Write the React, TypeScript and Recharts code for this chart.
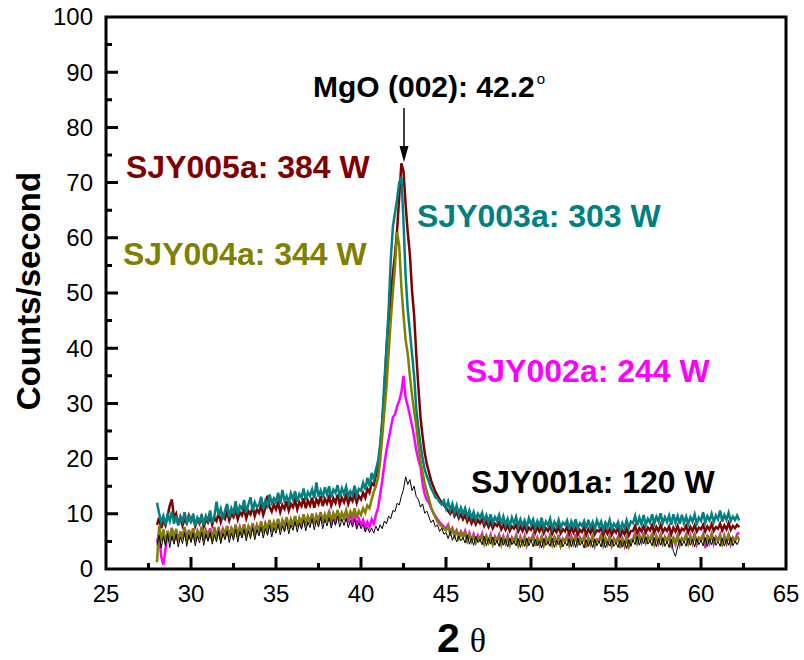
import { LineChart, Line, XAxis, YAxis } from "recharts";

// 2θ scan grid (degrees)
const twoTheta = [
  28, 28.125, 28.25, 28.375, 28.5, 28.625, 28.75, 28.875,
  29, 29.125, 29.25, 29.375, 29.5, 29.625, 29.75, 29.875,
  30, 30.125, 30.25, 30.375, 30.5, 30.625, 30.75, 30.875,
  31, 31.125, 31.25, 31.375, 31.5, 31.625, 31.75, 31.875,
  32, 32.125, 32.25, 32.375, 32.5, 32.625, 32.75, 32.875,
  33, 33.125, 33.25, 33.375, 33.5, 33.625, 33.75, 33.875,
  34, 34.125, 34.25, 34.375, 34.5, 34.625, 34.75, 34.875,
  35, 35.125, 35.25, 35.375, 35.5, 35.625, 35.75, 35.875,
  36, 36.125, 36.25, 36.375, 36.5, 36.625, 36.75, 36.875,
  37, 37.125, 37.25, 37.375, 37.5, 37.625, 37.75, 37.875,
  38, 38.125, 38.25, 38.375, 38.5, 38.625, 38.75, 38.875,
  39, 39.125, 39.25, 39.375, 39.5, 39.625, 39.75, 39.875,
  40, 40.125, 40.25, 40.375, 40.5, 40.625, 40.75, 40.875,
  41, 41.125, 41.25, 41.375, 41.5, 41.625, 41.75, 41.875,
  42, 42.125, 42.25, 42.375, 42.5, 42.625, 42.75, 42.875,
  43, 43.125, 43.25, 43.375, 43.5, 43.625, 43.75, 43.875,
  44, 44.125, 44.25, 44.375, 44.5, 44.625, 44.75, 44.875,
  45, 45.125, 45.25, 45.375, 45.5, 45.625, 45.75, 45.875,
  46, 46.125, 46.25, 46.375, 46.5, 46.625, 46.75, 46.875,
  47, 47.125, 47.25, 47.375, 47.5, 47.625, 47.75, 47.875,
  48, 48.125, 48.25, 48.375, 48.5, 48.625, 48.75, 48.875,
  49, 49.125, 49.25, 49.375, 49.5, 49.625, 49.75, 49.875,
  50, 50.125, 50.25, 50.375, 50.5, 50.625, 50.75, 50.875,
  51, 51.125, 51.25, 51.375, 51.5, 51.625, 51.75, 51.875,
  52, 52.125, 52.25, 52.375, 52.5, 52.625, 52.75, 52.875,
  53, 53.125, 53.25, 53.375, 53.5, 53.625, 53.75, 53.875,
  54, 54.125, 54.25, 54.375, 54.5, 54.625, 54.75, 54.875,
  55, 55.125, 55.25, 55.375, 55.5, 55.625, 55.75, 55.875,
  56, 56.125, 56.25, 56.375, 56.5, 56.625, 56.75, 56.875,
  57, 57.125, 57.25, 57.375, 57.5, 57.625, 57.75, 57.875,
  58, 58.125, 58.25, 58.375, 58.5, 58.625, 58.75, 58.875,
  59, 59.125, 59.25, 59.375, 59.5, 59.625, 59.75, 59.875,
  60, 60.125, 60.25, 60.375, 60.5, 60.625, 60.75, 60.875,
  61, 61.125, 61.25, 61.375, 61.5, 61.625, 61.75, 61.875,
  62, 62.125, 62.25,
];

// SJY003a: 303 W
const sjy003a = [
  12.0, 10.1, 8.4, 9.6, 8.0, 9.9, 8.7, 10.4,
  8.2, 9.7, 7.9, 9.4, 8.6, 10.3, 8.1, 9.8,
  8.4, 10.0, 7.8, 9.3, 8.5, 9.9, 8.0, 9.6,
  8.8, 10.6, 8.3, 9.5, 12.2, 9.7, 10.9, 9.0,
  10.6, 11.8, 9.4, 11.0, 10.1, 12.3, 9.9, 11.4,
  10.8, 12.5, 10.2, 11.7, 13.0, 10.6, 12.1, 11.2,
  11.6, 13.1, 10.9, 12.4, 11.5, 13.5, 12.0, 12.8,
  12.1, 13.8, 11.8, 14.3, 12.4, 13.2, 12.0, 13.7,
  12.6, 14.1, 12.2, 13.6, 12.9, 14.6, 12.5, 13.9,
  13.2, 14.4, 12.8, 15.7, 13.1, 14.2, 12.9, 14.8,
  13.5, 15.0, 12.9, 14.4, 13.8, 15.2, 13.0, 14.6,
  13.6, 14.9, 13.2, 14.1, 13.4, 15.1, 13.3, 14.5,
  14.2, 15.6, 14.4, 16.5, 15.0, 17.4, 16.2, 18.0,
  19.5, 22.5, 27.0, 34.0, 40.0, 47.0, 56.0, 62.0,
  64.5, 67.0, 70.0, 71.0, 63.0, 53.0, 47.0, 43.0,
  39.0, 35.0, 29.0, 25.5, 22.5, 20.0, 18.0, 16.8,
  15.8, 14.6, 13.9, 13.0, 12.8, 12.1, 11.7, 12.4,
  11.0, 12.2, 10.6, 11.8, 10.2, 11.5, 9.9, 11.1,
  10.0, 11.0, 9.4, 10.6, 9.2, 10.3, 8.9, 10.0,
  9.3, 10.2, 8.6, 9.7, 8.5, 9.9, 8.3, 9.4,
  8.7, 9.8, 8.1, 9.5, 8.0, 9.1, 7.8, 9.3,
  8.2, 9.4, 7.7, 9.0, 7.9, 8.8, 7.6, 9.2,
  8.1, 9.0, 7.5, 8.7, 7.8, 9.3, 7.4, 8.6,
  7.9, 9.1, 7.3, 8.5, 7.7, 8.9, 7.5, 8.4,
  8.0, 8.8, 7.2, 8.6, 7.6, 9.0, 7.4, 8.3,
  7.8, 8.7, 7.3, 8.9, 7.5, 8.5, 7.2, 8.8,
  7.7, 8.6, 7.1, 8.4, 7.6, 8.9, 7.3, 8.2,
  7.6, 8.5, 7.0, 8.3, 7.4, 8.8, 7.5, 8.6,
  8.3, 9.6, 7.9, 9.3, 8.1, 9.8, 8.0, 9.1,
  8.4, 9.9, 8.2, 9.5, 8.6, 10.1, 8.3, 9.4,
  8.5, 9.7, 8.0, 9.9, 8.4, 9.6, 8.2, 9.8,
  8.3, 9.5, 8.1, 9.4, 8.6, 9.9, 8.2, 9.3,
  8.7, 10.3, 8.4, 9.6, 8.8, 10.0, 8.5, 9.7,
  9.0, 10.6, 8.6, 9.8, 8.9, 10.2, 8.7, 9.5,
  8.9, 9.7, 8.8,
];

// SJY005a: 384 W
const sjy005a = [
  8.0, 9.3, 7.4, 8.8, 7.9, 9.6, 11.5, 12.6,
  9.2, 10.0, 8.1, 9.4, 7.9, 9.1, 8.3, 9.7,
  8.6, 9.5, 7.8, 9.0, 8.2, 9.4, 7.7, 8.9,
  8.4, 9.6, 8.0, 9.3, 8.7, 10.2, 8.5, 9.8,
  9.1, 10.4, 8.8, 10.0, 9.4, 10.7, 9.0, 10.3,
  9.7, 10.9, 9.2, 10.5, 9.9, 11.3, 9.6, 10.8,
  10.2, 11.5, 9.8, 11.0, 13.3, 11.2, 10.4, 11.7,
  10.8, 12.0, 10.3, 11.6, 10.9, 12.3, 10.6, 11.8,
  11.2, 12.5, 10.8, 12.1, 11.4, 12.8, 11.0, 12.4,
  11.5, 12.9, 11.1, 12.6, 11.8, 13.2, 11.4, 12.7,
  11.9, 13.1, 11.5, 12.8, 12.0, 13.5, 11.7, 12.9,
  12.1, 13.4, 11.8, 13.0, 12.3, 13.6, 12.0, 13.2,
  12.6, 13.8, 12.9, 14.5, 13.8, 15.6, 15.2, 17.0,
  18.5, 21.5, 26.5, 32.0, 40.0, 45.0, 49.5, 53.5,
  57.0, 61.5, 67.5, 73.5, 72.0, 66.0, 61.0, 57.0,
  50.5, 46.0, 39.0, 33.0, 27.5, 24.0, 21.0, 19.0,
  17.5, 16.0, 15.0, 14.0, 13.3, 12.6, 12.0, 11.6,
  11.1, 10.5, 10.0, 10.8, 9.6, 10.3, 9.2, 9.9,
  9.0, 9.8, 8.6, 9.4, 8.3, 9.2, 8.1, 8.9,
  8.3, 9.0, 7.8, 8.6, 7.6, 8.5, 7.4, 8.2,
  7.8, 8.5, 7.2, 8.0, 7.1, 7.9, 6.9, 7.7,
  7.3, 8.0, 6.8, 7.7, 6.9, 7.8, 6.7, 7.5,
  7.1, 7.9, 6.6, 7.6, 6.8, 7.7, 6.5, 7.4,
  6.9, 7.8, 6.4, 7.3, 6.7, 7.6, 6.5, 7.2,
  6.8, 7.7, 6.3, 7.5, 6.6, 7.4, 6.2, 7.1,
  6.7, 7.6, 6.2, 7.2, 6.5, 7.5, 6.3, 7.0,
  6.8, 7.4, 6.1, 7.3, 6.4, 7.2, 6.2, 7.1,
  6.6, 7.5, 6.0, 7.0, 6.3, 7.3, 6.1, 6.9,
  6.9, 7.8, 6.5, 7.4, 6.8, 7.7, 6.6, 7.5,
  7.0, 7.9, 6.6, 7.6, 6.9, 8.0, 6.7, 7.4,
  6.9, 7.7, 6.3, 7.5, 6.8, 7.8, 6.5, 7.3,
  7.0, 7.8, 6.6, 7.6, 6.9, 7.9, 6.8, 7.5,
  7.2, 8.0, 6.8, 7.7, 7.1, 8.1, 6.9, 7.6,
  7.3, 8.2, 7.0, 7.9, 7.2, 8.3, 7.1, 7.8,
  7.4, 8.0, 7.6,
];

// SJY004a: 344 W
const sjy004a = [
  1.2, 7.8, 5.0, 7.2, 4.6, 6.9, 5.3, 7.5,
  5.1, 7.3, 4.9, 6.8, 5.5, 7.6, 5.0, 7.1,
  5.4, 7.4, 5.0, 6.9, 5.6, 7.7, 5.2, 7.0,
  5.5, 7.2, 5.1, 7.6, 5.8, 7.0, 5.3, 7.4,
  6.0, 7.8, 5.6, 7.3, 6.2, 8.0, 5.8, 7.5,
  6.3, 8.1, 5.9, 7.7, 6.6, 8.3, 6.1, 7.9,
  6.9, 8.6, 6.5, 8.2, 7.2, 8.9, 6.8, 8.5,
  7.5, 9.1, 7.0, 8.8, 7.8, 9.4, 7.3, 9.0,
  8.0, 9.6, 7.6, 9.2, 8.3, 9.9, 7.9, 9.5,
  8.5, 10.0, 8.1, 9.7, 8.8, 10.3, 8.4, 9.9,
  8.9, 10.4, 8.5, 10.1, 9.2, 10.7, 8.8, 10.2,
  9.3, 10.6, 8.9, 10.4, 9.6, 11.0, 9.2, 10.5,
  9.8, 11.0, 10.2, 11.5, 11.0, 12.6, 14.0, 15.0,
  16.5, 19.5, 24.0, 28.5, 33.0, 39.0, 45.0, 50.0,
  55.0, 61.0, 58.5, 51.0, 46.0, 41.5, 39.0, 35.0,
  31.5, 28.5, 26.0, 22.5, 19.5, 17.5, 15.5, 14.0,
  12.6, 11.2, 10.2, 9.4, 8.6, 8.1, 7.7, 7.3,
  7.0, 7.8, 6.4, 7.2, 6.0, 6.9, 5.6, 6.6,
  5.7, 6.6, 5.1, 6.2, 5.0, 6.0, 4.8, 5.8,
  5.2, 6.1, 4.6, 5.8, 4.8, 5.9, 4.5, 5.6,
  5.0, 6.0, 4.4, 5.7, 4.7, 5.8, 4.3, 5.5,
  4.9, 5.9, 4.3, 5.6, 4.6, 5.7, 4.4, 5.4,
  5.1, 6.0, 4.2, 5.5, 4.5, 5.8, 4.3, 5.6,
  4.8, 5.9, 4.4, 5.7, 4.6, 6.0, 4.2, 5.4,
  5.0, 5.8, 4.3, 5.6, 4.7, 6.1, 4.5, 5.5,
  4.9, 5.7, 4.1, 5.5, 4.6, 5.9, 4.4, 5.3,
  5.0, 6.0, 4.3, 5.6, 4.5, 5.8, 4.2, 5.4,
  4.8, 5.6, 4.0, 5.4, 4.4, 5.7, 4.1, 5.2,
  5.2, 6.3, 4.7, 5.9, 5.0, 6.4, 4.8, 5.8,
  5.1, 6.2, 4.5, 5.8, 4.9, 6.1, 4.6, 5.7,
  5.0, 5.9, 4.3, 5.6, 4.7, 6.0, 4.4, 5.5,
  5.1, 6.0, 4.6, 5.8, 4.9, 6.2, 4.7, 5.6,
  5.2, 6.1, 4.6, 5.9, 5.0, 6.3, 4.8, 5.7,
  5.1, 6.0, 4.5, 5.8, 4.9, 6.2, 4.7, 5.6,
  5.0, 5.9, 5.3,
];

// SJY002a: 244 W
const sjy002a = [
  4.8, 6.5, 2.2, 0.8, 3.6, 6.9, 5.0, 7.3,
  5.3, 7.0, 4.9, 6.7, 5.4, 7.4, 5.1, 6.9,
  5.6, 7.2, 5.1, 6.8, 5.5, 7.5, 5.2, 7.0,
  5.8, 7.4, 5.3, 7.1, 5.7, 7.6, 5.5, 7.2,
  6.2, 7.8, 5.8, 7.5, 6.1, 8.0, 5.9, 7.6,
  6.5, 8.1, 6.0, 7.8, 6.4, 8.3, 6.2, 7.9,
  7.0, 8.5, 6.6, 8.2, 7.1, 8.8, 6.8, 8.4,
  7.6, 9.0, 7.2, 8.7, 7.5, 9.3, 7.3, 8.9,
  8.1, 9.5, 7.7, 9.1, 8.0, 9.8, 7.8, 9.4,
  8.6, 10.0, 8.2, 9.6, 8.5, 10.2, 8.3, 9.7,
  9.0, 10.3, 8.6, 9.9, 8.8, 10.5, 8.7, 10.0,
  9.2, 10.4, 8.8, 9.8, 8.4, 9.5, 8.0, 9.1,
  8.0, 8.9, 7.4, 8.5, 7.6, 9.0, 8.2, 9.8,
  11.0, 13.5, 16.0, 19.0, 21.5, 23.5, 25.5, 27.5,
  28.0, 29.5, 30.5, 32.0, 35.0, 31.0, 29.5, 27.8,
  26.0, 24.0, 21.5, 19.8, 18.5, 15.5, 13.5, 12.5,
  12.0, 11.0, 10.2, 9.6, 9.0, 8.5, 8.1, 7.7,
  7.3, 8.0, 6.7, 7.4, 6.3, 7.0, 5.9, 6.8,
  6.0, 6.9, 5.3, 6.5, 5.2, 6.3, 4.9, 6.1,
  5.4, 6.4, 4.8, 6.0, 4.9, 6.2, 4.6, 5.9,
  5.2, 6.2, 4.5, 5.9, 4.7, 6.0, 4.3, 5.7,
  5.0, 6.1, 4.4, 5.8, 4.6, 5.9, 4.3, 5.6,
  5.3, 6.2, 4.2, 5.6, 4.4, 6.0, 4.1, 5.7,
  4.9, 6.1, 4.3, 5.9, 4.5, 6.2, 4.0, 5.5,
  5.1, 6.0, 4.2, 5.8, 4.6, 6.3, 4.4, 5.7,
  5.0, 5.9, 3.9, 5.6, 4.5, 6.1, 4.2, 5.4,
  5.2, 6.2, 4.1, 5.7, 4.3, 6.0, 4.0, 5.5,
  4.9, 5.8, 3.8, 5.5, 4.2, 5.9, 3.9, 5.3,
  5.4, 6.5, 4.6, 6.1, 4.9, 6.6, 4.6, 5.9,
  5.2, 6.4, 4.3, 5.9, 4.7, 6.3, 4.4, 5.8,
  5.1, 6.1, 4.0, 5.8, 4.5, 6.2, 4.2, 5.6,
  5.2, 6.2, 4.4, 6.0, 4.7, 6.4, 4.5, 5.7,
  5.4, 6.3, 3.8, 6.1, 4.8, 6.5, 4.6, 5.8,
  5.2, 6.2, 4.3, 6.0, 4.7, 6.4, 4.5, 5.7,
  5.1, 6.3, 6.6,
];

// SJY001a: 120 W
const sjy001a = [
  4.4, 6.1, 3.8, 5.9, 4.2, 6.4, 3.9, 6.0,
  4.5, 6.3, 4.0, 5.8, 4.6, 6.6, 4.1, 6.2,
  4.8, 6.5, 4.2, 6.0, 4.7, 6.7, 4.3, 6.3,
  5.0, 6.6, 4.5, 6.2, 4.9, 6.9, 4.6, 6.4,
  5.3, 6.9, 4.8, 6.5, 5.2, 7.2, 4.9, 6.8,
  5.6, 7.2, 5.1, 6.9, 5.5, 7.5, 5.3, 7.1,
  6.0, 7.6, 5.6, 7.3, 6.1, 7.9, 5.8, 7.5,
  6.5, 8.1, 6.2, 7.8, 6.7, 8.4, 6.4, 8.0,
  7.0, 8.6, 6.7, 8.3, 7.2, 8.9, 6.9, 8.5,
  7.5, 9.1, 7.1, 8.8, 7.6, 9.4, 7.3, 9.0,
  7.8, 9.3, 7.4, 9.0, 7.9, 9.6, 7.6, 9.1,
  7.9, 9.2, 7.5, 8.8, 7.6, 9.0, 7.2, 8.4,
  7.3, 8.1, 6.7, 7.6, 6.6, 7.4, 6.5, 7.8,
  6.9, 8.0, 7.3, 8.7, 8.2, 9.6, 9.1, 10.6,
  10.4, 11.9, 11.6, 13.2, 14.4, 16.7, 15.3, 16.2,
  14.2, 15.0, 13.1, 12.6, 11.2, 11.8, 10.1, 10.5,
  9.4, 8.4, 8.9, 7.6, 8.0, 6.8, 7.4, 6.3,
  6.6, 5.5, 6.8, 5.2, 6.1, 4.9, 6.0, 5.1,
  5.7, 4.7, 6.2, 4.5, 5.6, 4.3, 5.9, 4.8,
  5.4, 4.4, 5.9, 4.2, 5.5, 4.5, 5.8, 4.3,
  5.2, 4.1, 5.7, 4.3, 5.4, 4.0, 5.6, 4.4,
  5.1, 4.2, 5.5, 3.9, 5.3, 4.1, 5.6, 4.2,
  5.3, 4.0, 5.4, 4.2, 5.1, 3.8, 5.5, 4.3,
  5.0, 4.1, 5.6, 3.9, 5.2, 4.4, 5.3, 4.0,
  4.9, 4.2, 5.5, 4.0, 5.4, 3.9, 5.6, 4.3,
  5.0, 3.8, 5.3, 4.1, 5.2, 3.9, 5.4, 4.2,
  5.1, 4.0, 5.5, 3.8, 5.0, 4.2, 5.3, 4.1,
  4.8, 3.9, 5.2, 4.0, 5.1, 3.7, 5.3, 4.1,
  5.3, 4.4, 5.9, 4.3, 5.6, 4.6, 5.8, 4.5,
  5.2, 4.2, 5.7, 4.0, 5.5, 4.3, 5.6, 4.1,
  5.0, 3.9, 5.4, 3.2, 2.3, 4.0, 5.3, 4.2,
  5.1, 4.1, 5.6, 4.3, 5.4, 4.0, 5.5, 4.4,
  5.2, 4.2, 5.7, 4.1, 5.5, 4.4, 5.8, 4.3,
  5.0, 4.1, 5.6, 4.2, 5.4, 4.3, 5.7, 4.2,
  5.1, 4.4, 5.3,
];

const xMajor = [25, 30, 35, 40, 45, 50, 55, 60, 65];
const xMinor = [27.5, 32.5, 37.5, 42.5, 47.5, 52.5, 57.5, 62.5];
const yMajor = [0, 10, 20, 30, 40, 50, 60, 70, 80, 90, 100];
const yMinor = [5, 15, 25, 35, 45, 55, 65, 75, 85, 95];

const FONT = '"Liberation Sans", Arial, Helvetica, sans-serif';

// plot box, shared by the chart margins and the frame overlay
const W = 804;
const H = 660;
const PLOT = { left: 106, top: 17, right: 786, bottom: 569 };
const X_DOMAIN: [number, number] = [25, 65];
const Y_DOMAIN: [number, number] = [0, 100];
const px = (v: number) => PLOT.left + ((v - X_DOMAIN[0]) / (X_DOMAIN[1] - X_DOMAIN[0])) * (PLOT.right - PLOT.left);
const py = (v: number) => PLOT.bottom - ((v - Y_DOMAIN[0]) / (Y_DOMAIN[1] - Y_DOMAIN[0])) * (PLOT.bottom - PLOT.top);

const rows = twoTheta.map((x, i) => ({
  x,
  s1: sjy001a[i],
  s2: sjy002a[i],
  s3: sjy003a[i],
  s4: sjy004a[i],
  s5: sjy005a[i],
}));

const renderXTick = (props: any) => {
  const { x, y, payload } = props;
  return (
    <text key={`xt-${payload.value}`} x={x} y={y + 33} textAnchor="middle" fontSize={24} fontFamily={FONT} fill="#000">
      {payload.value}
    </text>
  );
};

const renderYTick = (props: any) => {
  const { x, y, payload } = props;
  return (
    <text key={`yt-${payload.value}`} x={x - 13} y={y} dy="0.35em" textAnchor="end" fontSize={24} fontFamily={FONT} fill="#000">
      {payload.value}
    </text>
  );
};

// frame with inward ticks, as one path
const framePath = [
  `M${PLOT.left},${PLOT.top}H${PLOT.right}V${PLOT.bottom}H${PLOT.left}Z`,
  ...xMajor.map((v) => `M${px(v)},${PLOT.bottom}v-12`),
  ...xMinor.map((v) => `M${px(v)},${PLOT.bottom}v-6`),
  ...yMajor.map((v) => `M${PLOT.left},${py(v)}h12`),
  ...yMinor.map((v) => `M${PLOT.left},${py(v)}h6`),
].join("");

export default function App() {
  return (
    <div style={{ position: "absolute", left: 0, top: 0, width: W, height: H, background: "#fff", fontFamily: FONT }}>
      <LineChart
        width={W}
        height={H}
        data={rows}
        margin={{ top: PLOT.top, right: W - PLOT.right, bottom: 0, left: 0 }}
      >
        <XAxis
          dataKey="x"
          type="number"
          domain={X_DOMAIN}
          allowDataOverflow
          ticks={xMajor}
          interval={0}
          tickSize={0}
          tickMargin={0}
          tickLine={false}
          axisLine={false}
          tick={renderXTick}
          height={H - PLOT.bottom}
        />
        <YAxis
          type="number"
          domain={Y_DOMAIN}
          allowDataOverflow
          ticks={yMajor}
          interval={0}
          tickSize={0}
          tickMargin={0}
          tickLine={false}
          axisLine={false}
          tick={renderYTick}
          width={PLOT.left}
        />

        <Line type="linear" dataKey="s2" stroke="#ff00ff" strokeWidth={2.5} dot={false} isAnimationActive={false} />
        <Line type="linear" dataKey="s5" stroke="#800000" strokeWidth={2.5} dot={false} isAnimationActive={false} />
        <Line type="linear" dataKey="s3" stroke="#008080" strokeWidth={2.5} dot={false} isAnimationActive={false} />
        <Line type="linear" dataKey="s4" stroke="#808000" strokeWidth={2.5} dot={false} isAnimationActive={false} />
        <Line type="linear" dataKey="s1" stroke="#000000" strokeWidth={1} dot={false} isAnimationActive={false} />
      </LineChart>

      {/* frame, inward ticks, annotations and axis titles */}
      <svg width={W} height={H} style={{ position: "absolute", left: 0, top: 0, pointerEvents: "none" }}>
        <path d={framePath} fill="none" stroke="#000000" strokeWidth={3} />

        <text x={313} y={97} fontSize={30} fontWeight="bold" fontFamily={FONT} fill="#000">
          MgO (002): 42.2
          <tspan fontSize={15} fontWeight="normal" dx={2} dy={-13}>o</tspan>
        </text>
        <line x1={404} y1={108} x2={404} y2={150} stroke="#000" strokeWidth={1.5} />
        <polygon points="399.5,146 408.5,146 404,162" fill="#000" />

        <text x={126} y={178} fontSize={32} fontWeight="bold" fontFamily={FONT} fill="#800000">SJY005a: 384 W</text>
        <text x={417} y={227} fontSize={32} fontWeight="bold" fontFamily={FONT} fill="#008080">SJY003a: 303 W</text>
        <text x={123} y={265} fontSize={32} fontWeight="bold" fontFamily={FONT} fill="#808000">SJY004a: 344 W</text>
        <text x={466} y={382} fontSize={32} fontWeight="bold" fontFamily={FONT} fill="#ff00ff">SJY002a: 244 W</text>
        <text x={471} y={493} fontSize={32} fontWeight="bold" fontFamily={FONT} fill="#000">SJY001a: 120 W</text>

        <text transform="translate(40,291) rotate(-90)" textAnchor="middle" fontSize={33} fontWeight="bold" fontFamily={FONT} fill="#000">
          Counts/second
        </text>
        <text x={437} y={652} fontSize={41} fontWeight="bold" fontFamily={FONT} fill="#000">
          2
          <tspan dx={10} fontSize={34} fontWeight="normal" fontFamily='"Liberation Serif", "DejaVu Serif", serif'>θ</tspan>
        </text>
      </svg>
    </div>
  );
}
